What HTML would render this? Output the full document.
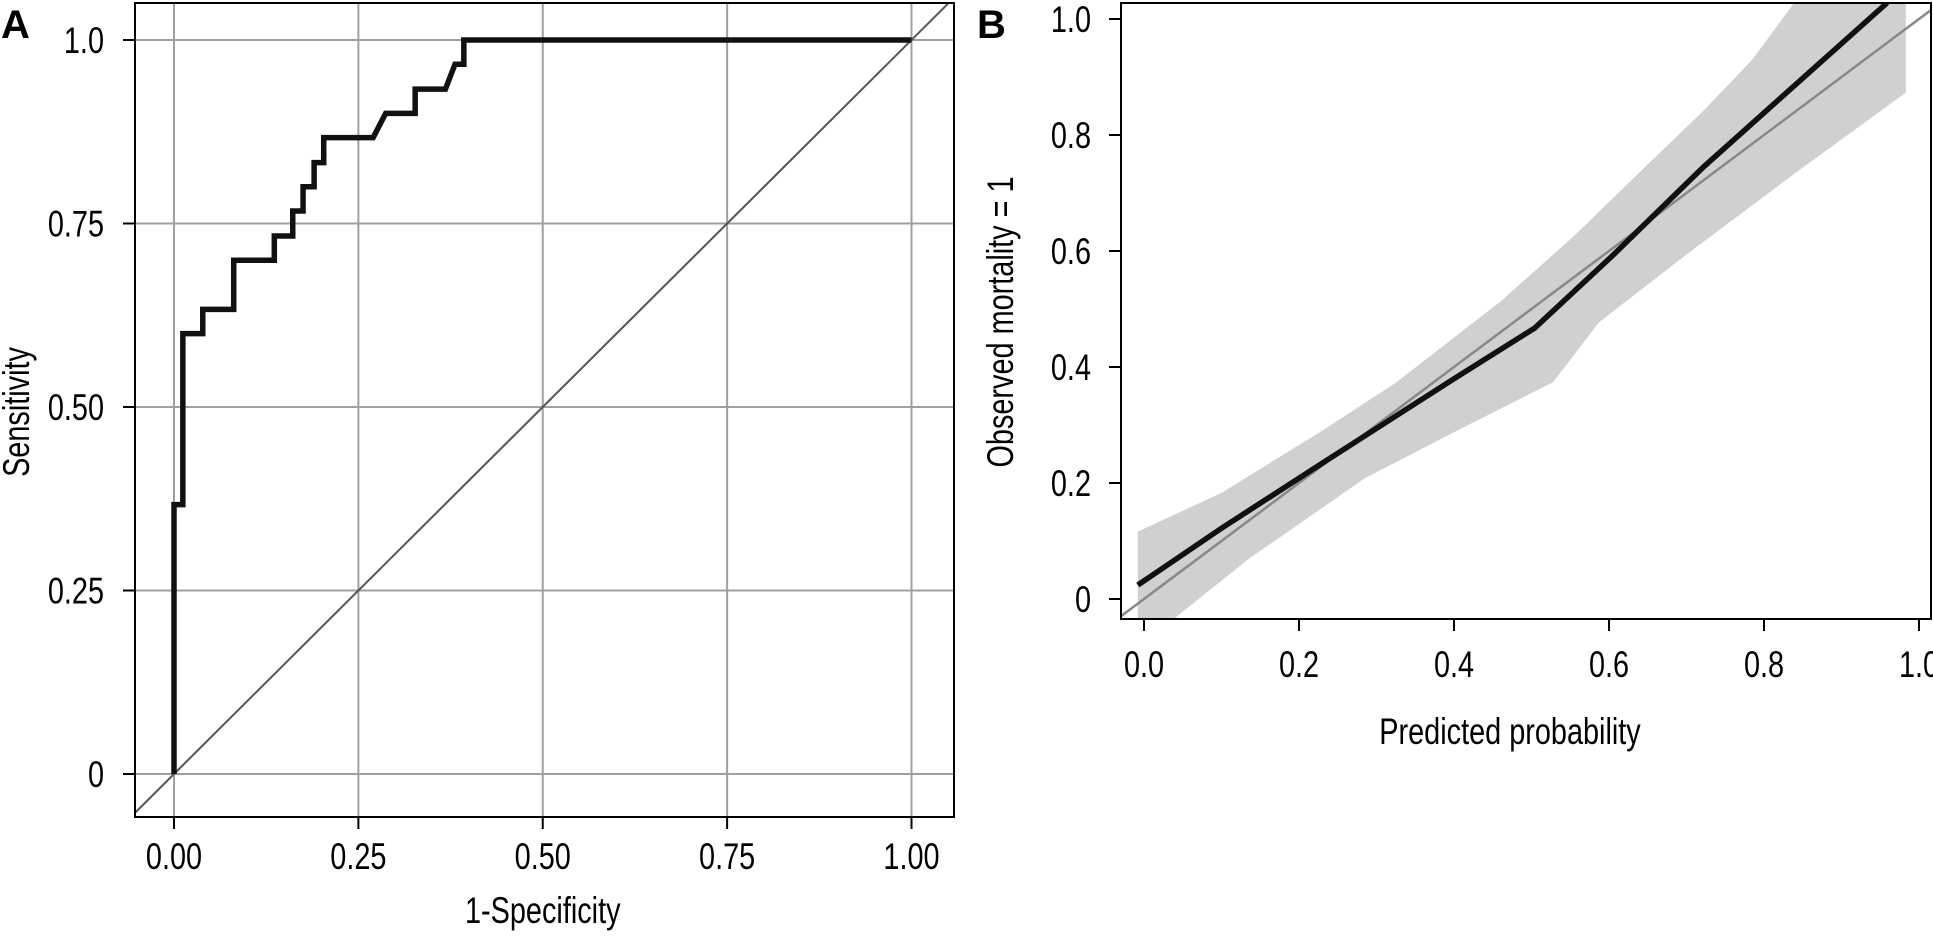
<!DOCTYPE html>
<html><head><meta charset="utf-8"><style>
html,body{margin:0;padding:0;background:#fff;}
svg{display:block;font-family:"Liberation Sans Narrow","Liberation Sans",sans-serif;}
</style></head><body>
<svg id="chart" width="1933" height="936" viewBox="0 0 1933 936" xmlns="http://www.w3.org/2000/svg">
<defs>
<clipPath id="clipA"><rect x="135" y="3" width="819" height="814"/></clipPath>
<clipPath id="clipB"><rect x="1121" y="3" width="810" height="616"/></clipPath>
</defs>
<g id="panelA"></g>
<g id="panelB"></g>
</svg>
<script>
// ROC data (panel A)
const rocFpr = [0,0,0.012,0.012,0.039,0.039,0.081,0.081,0.136,0.136,0.161,0.161,0.175,0.175,0.19,0.19,0.203,0.203,0.27,0.287,0.327,0.327,0.368,0.381,0.393,0.393,1.0];
const rocTpr = [0,0.367,0.367,0.6,0.6,0.633,0.633,0.7,0.7,0.733,0.733,0.767,0.767,0.8,0.8,0.833,0.833,0.867,0.867,0.9,0.9,0.933,0.933,0.967,0.967,1.0,1.0];
const rocTicks = [0,0.25,0.5,0.75,1.0];
const rocXLabels = ["0.00","0.25","0.50","0.75","1.00"];
const rocYLabels = ["0","0.25","0.50","0.75","1.0"];
// Calibration data (panel B)
const calX = [-0.008,0.10,0.231,0.405,0.504,0.603,0.722,0.959];
const calY = [0.024,0.122,0.235,0.384,0.467,0.59,0.745,1.028];
const bandUpX = [-0.008,0.10,0.231,0.326,0.46,0.555,0.642,0.722,0.785,0.84,0.983];
const bandUpY = [0.116,0.183,0.291,0.374,0.513,0.626,0.739,0.842,0.93,1.03,1.03];
const bandLoX = [0.983,0.84,0.706,0.587,0.528,0.405,0.286,0.136,0.033,-0.008];
const bandLoY = [0.873,0.734,0.60,0.477,0.374,0.291,0.209,0.07,-0.04,-0.04];
const calTicks = [0,0.2,0.4,0.6,0.8,1.0];
const calXLabels = ["0.0","0.2","0.4","0.6","0.8","1.0"];
const calYLabels = ["0","0.2","0.4","0.6","0.8","1.0"];

const NS="http://www.w3.org/2000/svg";
function mk(parent,tag,attrs){const e=document.createElementNS(NS,tag);for(const k in attrs)e.setAttribute(k,attrs[k]);parent.appendChild(e);return e;}
function txt(parent,x,y,s,anchor,rot){
  const e=mk(parent,'text',{x:0,y:0,'font-size':37,'text-anchor':anchor,transform:'translate('+x+','+y+')'+(rot?' rotate(-90)':'')+' scale(0.78,1)'});
  e.textContent=s;return e;
}

// Panel A scales
const ax = v => 174 + v*(911.5-174);
const ay = v => 774 - v*(774-40);
const A = document.getElementById('panelA');
for(let i=0;i<rocTicks.length;i++){
  const t=rocTicks[i];
  let g=mk(A,'line',{x1:ax(t),x2:ax(t),y1:3,y2:817,stroke:'#a0a0a0','stroke-width':2});
  
  
  g=mk(A,'line',{x1:135,x2:954,y1:ay(t),y2:ay(t),stroke:'#a0a0a0','stroke-width':2});
  
  
  mk(A,'line',{x1:ax(t),x2:ax(t),y1:817,y2:829,stroke:'#000','stroke-width':2});
  mk(A,'line',{x1:123,x2:135,y1:ay(t),y2:ay(t),stroke:'#000','stroke-width':2});
  let tx=txt(A,ax(t),ay(0)+95,rocXLabels[i],'middle');
  
  
  let ty=txt(A,104,ay(t)+13,rocYLabels[i],'end');
  
  
}
let dA=mk(A,'line',{x1:ax(-0.1),y1:ay(-0.1),x2:ax(1.1),y2:ay(1.1),stroke:'#555','stroke-width':2,'clip-path':'url(#clipA)'});


let rp=rocFpr.map((f,i)=>ax(f)+','+ay(rocTpr[i])).join(' ');
let roc=mk(A,'polyline',{points:rp,fill:'none',stroke:'#111','stroke-width':5.5,'stroke-linejoin':'miter'});


let bA=mk(A,'rect',{x:135,y:3,width:819,height:814,fill:'none',stroke:'#000','stroke-width':2});


let t1=txt(A,ax(0.5),923,'1-Specificity','middle');


let t2=txt(A,29,412,'Sensitivity','middle',true);


let la=mk(A,'text',{x:1,y:38,'font-size':40,'font-weight':'bold','font-family':'Liberation Sans, sans-serif'});la.textContent='A';



// Panel B scales
const bx = v => 1144 + v*775;
const by = v => 599 - v*580;
const B=document.getElementById('panelB');
const bandPts=bandUpX.map((x,i)=>bx(x)+','+by(bandUpY[i])).concat(bandLoX.map((x,i)=>bx(x)+','+by(bandLoY[i]))).join(' ');
let band=mk(B,'polygon',{points:bandPts,fill:'#d0d0d0',stroke:'none','clip-path':'url(#clipB)'});


let dB=mk(B,'line',{x1:bx(-0.1),y1:by(-0.1),x2:bx(1.1),y2:by(1.1),stroke:'#888','stroke-width':2.5,'clip-path':'url(#clipB)'});


let cp=calX.map((x,i)=>bx(x)+','+by(calY[i])).join(' ');
let cal=mk(B,'polyline',{points:cp,fill:'none',stroke:'#111','stroke-width':5.5,'clip-path':'url(#clipB)'});


let bB=mk(B,'rect',{x:1121,y:3,width:810,height:616,fill:'none',stroke:'#000','stroke-width':2});


for(let i=0;i<calTicks.length;i++){
  const t=calTicks[i];
  mk(B,'line',{x1:bx(t),x2:bx(t),y1:619,y2:631,stroke:'#000','stroke-width':2});
  mk(B,'line',{x1:1109,x2:1121,y1:by(t),y2:by(t),stroke:'#000','stroke-width':2});
  let tx=txt(B,bx(t),677,calXLabels[i],'middle');
  
  
  let ty=txt(B,1091,by(t)+13,calYLabels[i],'end');
  
  
}
let t3=txt(B,1510,744,'Predicted probability','middle');


let t4=txt(B,1013,322,'Observed mortality = 1','middle',true);


let lb=mk(B,'text',{x:977,y:38,'font-size':40,'font-weight':'bold','font-family':'Liberation Sans, sans-serif'});lb.textContent='B';


</script>
</body></html>
